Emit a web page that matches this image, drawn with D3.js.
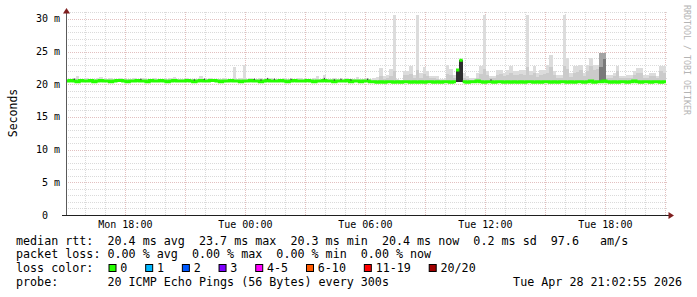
<!DOCTYPE html>
<html>
<head>
<meta charset="utf-8">
<script src="https://cdn.jsdelivr.net/npm/d3@7"></script>
<style>
  body { margin: 0; background: #fff; }
  text { font-family: "DejaVu Sans Mono", monospace; }
</style>
</head>
<body>
<div id="chart"></div>
<script>
// time range of the graph, one value every 10 minutes
const startTime = new Date(2026, 3, 27, 15, 2);
const endTime = new Date(2026, 3, 28, 21, 2);
const stepMin = 10;

// median rtt (ms)
const median = [
  20.5,20.6,20.5,20.4,20.6,20.5,20.5,20.6,20.4,20.5,
  20.6,20.5,20.5,20.4,20.5,20.6,20.6,20.5,20.4,20.5,
  20.5,20.6,20.5,20.5,20.4,20.6,20.5,20.5,20.6,20.5,
  20.4,20.5,20.6,20.5,20.5,20.5,20.6,20.5,20.4,20.5,
  20.6,20.5,20.5,20.6,20.6,20.5,20.4,20.5,20.5,20.6,
  20.5,20.5,20.4,20.5,20.5,20.6,20.5,20.5,20.4,20.5,
  20.6,20.5,20.5,20.5,20.6,20.5,20.4,20.5,20.6,20.5,
  20.5,20.5,20.6,20.5,20.4,20.5,20.5,20.6,20.5,20.5,
  20.4,20.5,20.5,20.5,20.6,20.4,20.5,20.5,20.4,20.5,
  20.5,20.4,
  20.4,20.3,20.4,20.3,20.4,20.4,20.3,20.4,20.3,20.4,
  20.4,20.3,20.4,20.3,20.4,20.3,20.4,20.4,20.3,20.4,
  20.3,20.4,20.4,20.3,20.4,22.2,23.7,20.4,20.3,20.4,
  20.4,20.5,20.4,20.3,20.4,20.4,20.3,20.4,20.4,20.3,
  20.4,20.3,20.4,20.3,20.4,20.3,20.4,20.4,20.3,20.4,
  20.3,20.4,20.4,20.3,20.4,20.3,20.4,20.4,20.3,20.4,
  20.3,20.4,20.4,20.3,20.4,20.5,20.3,20.4,20.4,20.5,
  20.4,20.3,20.4,20.3,20.4,20.4,20.3,20.4,20.5,20.4,
  20.3,20.4,20.4,20.3,20.4,20.4,20.3,20.4
];

// top of the smoke (slowest pings, ms)
const smokeTop = [
  20.8,20.8,20.9,21.3,20.8,20.8,20.9,20.8,20.8,20.9,
  21.1,20.8,20.8,20.9,20.8,20.8,20.9,20.8,20.8,20.8,
  20.9,20.8,20.8,21.0,20.8,20.8,20.9,20.8,20.8,20.8,
  20.8,20.9,21.1,20.8,20.8,20.8,20.9,20.8,20.8,20.8,
  21.2,20.8,20.8,20.9,20.8,20.8,20.8,20.9,20.8,20.8,
  22.7,20.8,20.9,23.0,20.8,20.9,20.8,20.8,21.0,20.8,
  20.8,20.9,20.8,20.8,20.8,20.9,20.8,20.8,20.8,20.9,
  21.0,20.8,20.8,20.8,20.9,21.2,20.8,21.5,20.8,20.8,
  20.9,20.8,20.8,20.8,20.9,20.8,20.8,21.1,20.8,20.8,
  20.9,20.8,
  20.9,21.1,22.5,21.3,21.4,22.3,30.6,20.8,20.7,22.0,
  22.0,22.8,21.5,30.6,21.7,22.6,22.0,21.3,21.3,21.2,
  20.8,20.8,23.0,22.4,21.5,22.2,23.7,21.7,21.2,21.0,
  21.0,21.7,22.8,30.6,22.0,21.3,21.3,22.2,22.2,21.7,
  22.2,22.8,22.0,22.0,22.2,22.2,30.6,22.0,22.8,21.7,
  22.2,22.2,23.0,24.5,22.0,21.5,21.5,30.6,24.0,21.7,
  22.8,22.8,23.0,21.7,23.0,24.0,23.0,23.0,24.8,24.8,
  21.5,21.5,21.7,22.8,21.3,21.3,21.5,21.5,22.0,22.5,
  22.5,21.5,21.5,21.7,21.7,21.3,22.8,22.8
];

// inner, darker smoke layer, from bin heavyStart on
const heavyStart = 92;
const smokeMid = [
  20.6,20.7,21.2,20.8,20.9,21.3,22.0,20.6,20.6,21.4,
  21.5,21.6,21.0,22.2,21.0,21.6,21.3,20.9,20.9,20.8,
  20.6,20.6,21.6,21.4,21.0,22.2,23.7,21.0,20.8,20.7,
  20.7,21.0,21.6,22.4,21.4,20.9,20.9,21.5,21.6,21.2,
  21.5,21.8,21.4,21.4,21.6,21.5,22.6,21.4,21.8,21.1,
  21.5,21.6,21.8,22.6,21.4,21.0,21.0,22.8,22.4,21.1,
  21.8,21.9,22.2,21.2,22.0,22.8,22.2,22.4,24.0,24.6,
  21.0,21.0,21.2,22.0,20.9,20.9,21.0,21.0,21.4,21.8,
  21.8,21.0,21.0,21.2,21.2,20.9,22.0,21.8
];

// dense smoke bins
const shadeBins = [160, 161];
const shadeTop = [24.8, 24.8];
const darkBins = [117, 118, 160, 161];
const darkTop = [22.2, 23.7, 22.6, 23.9];
const darkColors = ['#2e2e2e', '#2e2e2e', '#7a7a7a', '#7a7a7a'];
const blackTicks = [2, 22, 38, 41, 56, 58, 60, 62, 67, 77, 80, 82, 85, 90, 127];

const yTicks = [0, 5, 10, 15, 20, 25, 30];
const yTickLabels = ['0  ', '5 m', '10 m', '15 m', '20 m', '25 m', '30 m'];

const lossLabels = ['0', '1', '2', '3', '4-5', '6-10', '11-19', '20/20'];
const lossColors = ['#26ff00', '#00b8ff', '#0059ff', '#7e00ff', '#ff00ff', '#ff5a00', '#ff0000', '#a00000'];

const legendLines = [
  'median rtt:  20.4 ms avg  23.7 ms max  20.3 ms min  20.4 ms now  0.2 ms sd  97.6   am/s',
  'packet loss: 0.00 % avg  0.00 % max  0.00 % min  0.00 % now',
  'loss color:',
  'probe:       20 ICMP Echo Pings (56 Bytes) every 300s'
];
const stampText = 'Tue Apr 28 21:02:55 2026';

const width = 697, height = 297;
const minorColor = 'rgba(140,140,140,0.32)';
const majorColor = 'rgba(150,30,30,0.28)';

const svg = d3.select('#chart').append('svg')
  .attr('width', width)
  .attr('height', height);

const x = d3.scaleTime().domain([startTime, endTime]).range([66, 666]);
const y = d3.scaleLinear().domain([0, 31.1]).range([215, 11.8]);
const binTime = (i) => d3.timeMinute.offset(startTime, i * stepMin);
const bx0 = (i) => x(binTime(i));
const bx1 = (i) => x(binTime(i + 1));

// grid
const grid = svg.append('g')
  .attr('shape-rendering', 'crispEdges')
  .attr('stroke-dasharray', '1,1');

d3.range(1, 32).forEach((v) => {
  const yy = Math.round(y(v)) + 0.5;
  grid.append('line')
    .attr('x1', 66).attr('x2', 668).attr('y1', yy).attr('y2', yy)
    .attr('stroke', v % 5 ? minorColor : majorColor);
});
d3.timeHour.range(startTime, endTime).forEach((t) => {
  const xx = Math.round(x(t)) + 0.5;
  grid.append('line')
    .attr('x1', xx).attr('x2', xx).attr('y1', 12).attr('y2', 215)
    .attr('stroke', t.getHours() % 3 ? minorColor : majorColor);
});

// smoke
const bins = d3.range(median.length);
const smoke = svg.append('g').attr('shape-rendering', 'crispEdges');
smoke.selectAll('rect.top')
  .data(bins)
  .join('rect')
  .attr('class', 'top')
  .attr('x', (i) => bx0(i))
  .attr('width', (i) => bx1(i) - bx0(i))
  .attr('y', (i) => y(smokeTop[i]))
  .attr('height', (i) => Math.max(0, y(median[i]) - y(smokeTop[i])))
  .attr('fill', '#dcdcdc');

smoke.selectAll('rect.mid')
  .data(smokeMid.map((v, k) => [heavyStart + k, v]))
  .join('rect')
  .attr('class', 'mid')
  .attr('x', (d) => bx0(d[0]))
  .attr('width', (d) => bx1(d[0]) - bx0(d[0]))
  .attr('y', (d) => y(d[1]))
  .attr('height', (d) => Math.max(0, y(median[d[0]]) - y(d[1])))
  .attr('fill', '#cbcbcb');

smoke.selectAll('rect.shade')
  .data(shadeBins.map((b, k) => [b, shadeTop[k]]))
  .join('rect')
  .attr('class', 'shade')
  .attr('x', (d) => bx0(d[0]))
  .attr('width', (d) => bx1(d[0]) - bx0(d[0]))
  .attr('y', (d) => y(d[1]))
  .attr('height', (d) => y(median[d[0]]) - y(d[1]))
  .attr('fill', '#a4a4a4');

smoke.selectAll('rect.dark')
  .data(darkBins.map((b, k) => [b, darkTop[k], darkColors[k]]))
  .join('rect')
  .attr('class', 'dark')
  .attr('x', (d) => bx0(d[0]))
  .attr('width', (d) => bx1(d[0]) - bx0(d[0]))
  .attr('y', (d) => y(d[1]))
  .attr('height', (d) => y(20.3) - y(d[1]))
  .attr('fill', (d) => d[2]);

// median line, broken around the dense bins
const darkSet = new Set(darkBins.slice(0, 2));
const pts = [];
bins.forEach((i) => {
  if (darkSet.has(i)) {
    pts.push({ ok: false });
    pts.push({ x: bx0(i), y: y(median[i]), ok: true });
    pts.push({ x: bx1(i), y: y(median[i]), ok: true });
    pts.push({ ok: false });
  } else {
    pts.push({ x: bx0(i), y: y(median[i]), ok: true });
    pts.push({ x: bx1(i), y: y(median[i]), ok: true });
  }
});
svg.append('path')
  .attr('d', d3.line().defined((d) => d.ok).x((d) => d.x).y((d) => d.y)(pts))
  .attr('fill', 'none')
  .attr('stroke', lossColors[0])
  .attr('stroke-width', 3);

svg.append('g').selectAll('rect')
  .data(blackTicks)
  .join('rect')
  .attr('x', (i) => (bx0(i) + bx1(i)) / 2 - 0.5)
  .attr('width', 1)
  .attr('y', (i) => y(median[i]) - 2.5)
  .attr('height', 1.5)
  .attr('fill', '#333');

// axes
svg.append('line')
  .attr('x1', 66.5).attr('x2', 66.5).attr('y1', 13).attr('y2', 215)
  .attr('stroke', '#5a5a5a');
svg.append('line')
  .attr('x1', 62).attr('x2', 669).attr('y1', 215.5).attr('y2', 215.5)
  .attr('stroke', '#1f1f1f');
svg.append('path').attr('d', 'M63,13.5L70,13.5L66.5,8Z').attr('fill', '#7f1f1f');
svg.append('path').attr('d', 'M668.5,212L668.5,219L674,215.5Z').attr('fill', '#7f1f1f');

// tick labels
svg.append('g').selectAll('text')
  .data(yTicks)
  .join('text')
  .attr('x', 60)
  .attr('y', (v) => y(v) + 3.5)
  .attr('text-anchor', 'end')
  .attr('xml:space', 'preserve')
  .style('white-space', 'pre')
  .attr('font-size', 10)
  .text((v, k) => yTickLabels[k]);

const fmt = d3.timeFormat('%a %H:%M');
svg.append('g').selectAll('text')
  .data(d3.timeHour.every(6).range(startTime, endTime))
  .join('text')
  .attr('x', (t) => x(t))
  .attr('y', 228)
  .attr('text-anchor', 'middle')
  .attr('font-size', 10)
  .text((t) => fmt(t));

svg.append('text')
  .attr('transform', 'translate(17,113) rotate(-90)')
  .attr('text-anchor', 'middle')
  .attr('font-size', 11.5)
  .text('Seconds');

svg.append('text')
  .attr('transform', 'translate(684,5) rotate(90)')
  .attr('font-size', 8.3)
  .attr('fill', '#b4b4b4')
  .text('RRDTOOL / TOBI OETIKER');

// legend
const charW = 7.05;
const lineY = [244.5, 258.3, 272, 285.8];
svg.append('g').selectAll('text')
  .data(legendLines)
  .join('text')
  .attr('x', 16)
  .attr('y', (d, k) => lineY[k])
  .attr('xml:space', 'preserve')
  .style('white-space', 'pre')
  .attr('font-size', 11.7)
  .text((d) => d);

svg.append('text')
  .attr('x', 682)
  .attr('y', lineY[3])
  .attr('text-anchor', 'end')
  .attr('font-size', 11.7)
  .text(stampText);

let bxPos = 109;
lossLabels.forEach((lab, k) => {
  svg.append('rect')
    .attr('x', bxPos).attr('y', 264.5).attr('width', 7).attr('height', 7)
    .attr('fill', lossColors[k])
    .attr('stroke', '#000')
    .attr('stroke-width', 1);
  svg.append('text')
    .attr('x', bxPos + 11.3)
    .attr('y', lineY[2])
    .attr('font-size', 11.7)
    .text(lab);
  bxPos += 11.3 + (lab.length + 2.6) * charW;
});
</script>
</body>
</html>
